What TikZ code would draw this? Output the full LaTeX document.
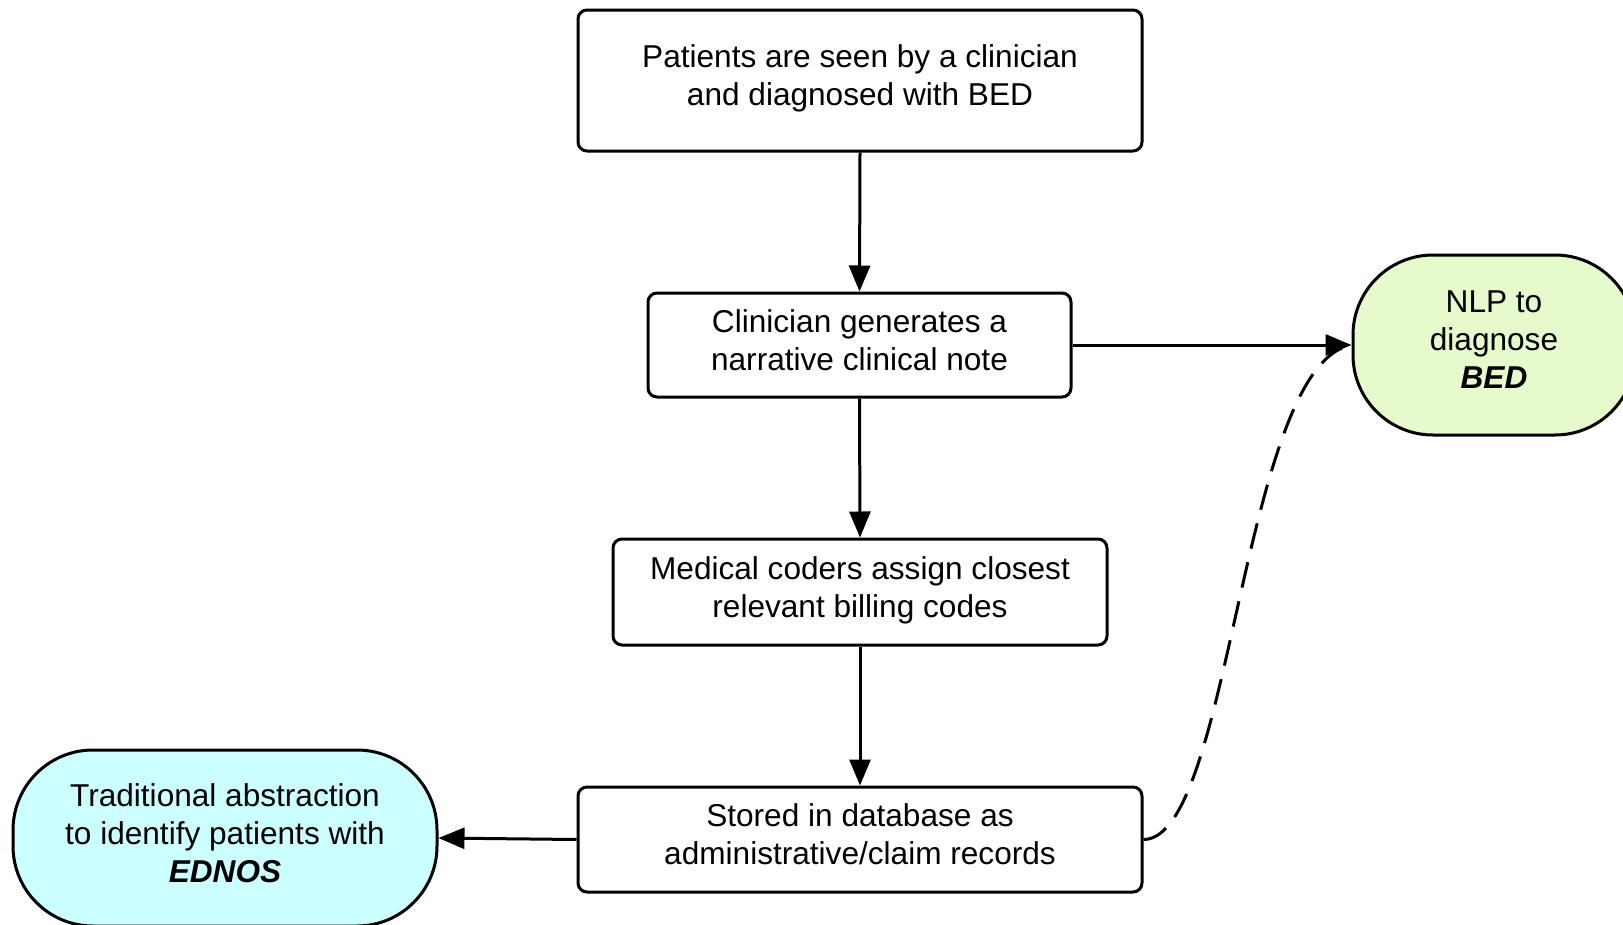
\documentclass[tikz,border=0pt]{standalone}
\usepackage{fontspec}
\setmainfont{Liberation Sans}
\usetikzlibrary{arrows.meta}
\definecolor{nlpfill}{RGB}{230,250,204}
\definecolor{ednosfill}{RGB}{204,255,255}
\begin{document}
\begin{tikzpicture}[x=1pt,y=-1pt,
  every node/.style={font=\fontsize{31.6}{38}\selectfont, align=center, inner sep=0pt,
    execute at end node={\rule[-10pt]{0pt}{0pt}}},
  procbox/.style={draw, line width=3pt, rounded corners=9pt},
  termbox/.style={draw, line width=3pt, rounded corners=80pt},
  flow/.style={line width=3pt, -{Triangle[length=26pt,width=21pt]}},
  dashflow/.style={line width=3pt, dash pattern=on 26pt off 14pt}]
\useasboundingbox (0,0) rectangle (1623,924);
\node[procbox, minimum width=564pt, minimum height=141pt] (b1) at (860,80.5)
  {Patients are seen by a clinician\\and diagnosed with BED};
\node[procbox, minimum width=423pt, minimum height=104pt] (b2) at (859.5,345)
  {Clinician generates a\\narrative clinical note};
\node[procbox, minimum width=494pt, minimum height=106pt] (b3) at (860,592)
  {Medical coders assign closest\\relevant billing codes};
\node[procbox, minimum width=564pt, minimum height=105pt] (b4) at (860,839.5)
  {Stored in database as\\administrative/claim records};
\node[termbox, fill=nlpfill, minimum width=282pt, minimum height=180pt] (nlp) at (1494,345)
  {NLP to\\diagnose\\\textbf{\textit{BED}}};
\node[termbox, fill=ednosfill, minimum width=424pt, minimum height=176pt] (ednos) at (225,838)
  {Traditional abstraction\\to identify patients with\\\textbf{\textit{EDNOS}}};
\draw[flow] (b1.south) -- (b2.north);
\draw[flow] (b2.south) -- (b3.north);
\draw[flow] (b3.south) -- (b4.north);
\draw[flow] (b4.west) -- (ednos.east);
\draw[flow] (b2.east) -- (nlp.west);
\draw[dashflow] (b4.east) .. controls +(88,0) and +(-110,20) .. (nlp.west);
\end{tikzpicture}
\end{document}
